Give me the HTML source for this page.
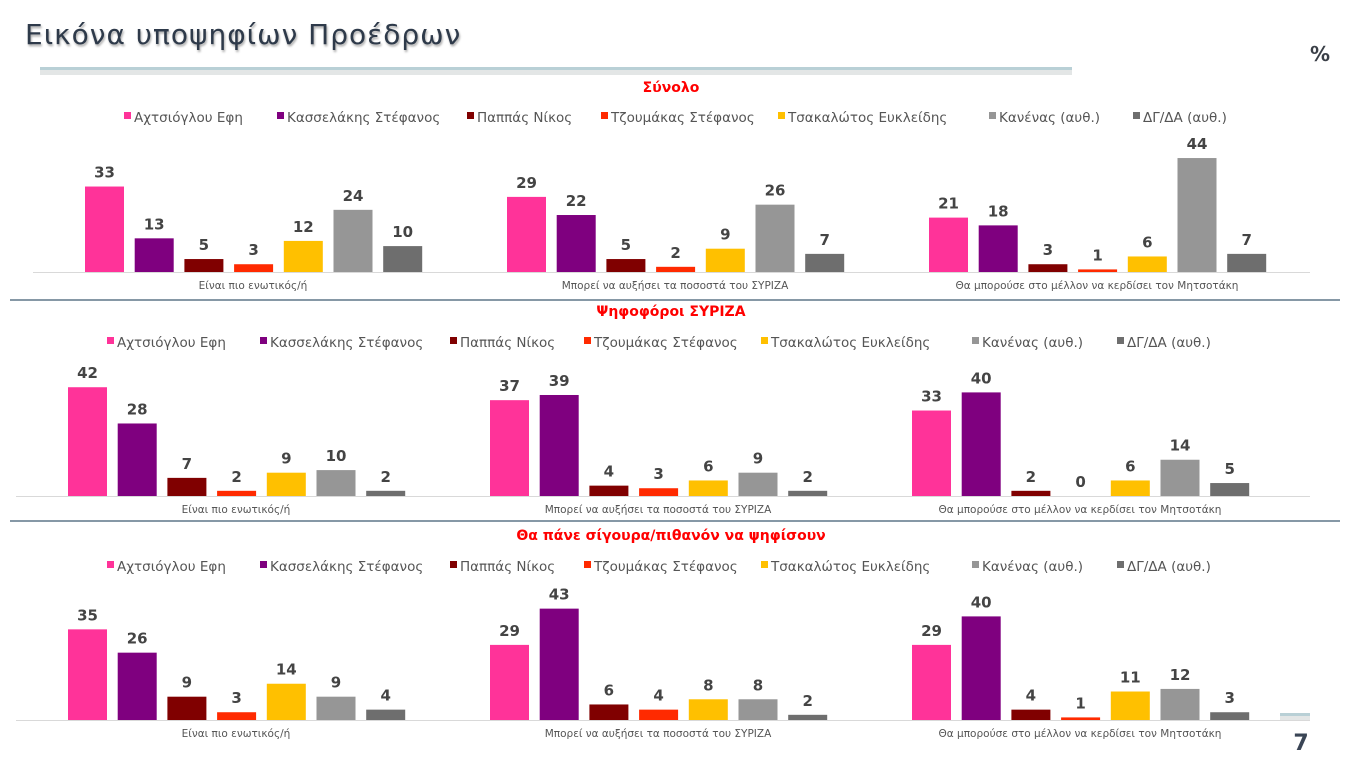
<!DOCTYPE html>
<html><head><meta charset="utf-8"><style>
body{margin:0;background:#fff;width:1360px;height:765px;overflow:hidden;font-family:"Liberation Sans","DejaVu Sans",sans-serif}
svg text{font-family:"DejaVu Sans","Liberation Sans",sans-serif}
</style></head><body>
<svg id="s" width="1360" height="765" xmlns="http://www.w3.org/2000/svg">
<text x="25" y="44" font-size="28" fill="#2E3A4A" style="font-family:'DejaVu Sans',sans-serif;text-shadow:1px 2px 2px #aaa" letter-spacing="1">Εικόνα υποψηφίων Προέδρων</text>
<rect x="40" y="70" width="1032" height="5" fill="#e3e6e6"/>
<rect x="40" y="67" width="1032" height="3" fill="#b9d0d6"/>
<text x="1320" y="61" font-size="20" font-weight="bold" fill="#3a3f47" text-anchor="middle">%</text>
<rect x="1280" y="713" width="30" height="3" fill="#b9d0d6"/>
<rect x="1280" y="716" width="30" height="4" fill="#e3e6e6"/>
<text x="1301" y="750" font-size="22" font-weight="bold" fill="#3a4555" text-anchor="middle">7</text>
<line x1="10" y1="300" x2="1340" y2="300" stroke="#3e5a70" stroke-width="1.3"/>
<line x1="10" y1="521" x2="1340" y2="521" stroke="#3e5a70" stroke-width="1.3"/>
</svg>
<script>
const s=document.getElementById('s');const NS='http://www.w3.org/2000/svg';
function el(t,a,txt){const e=document.createElementNS(NS,t);for(const k in a)e.setAttribute(k,a[k]);if(txt!=null)e.textContent=txt;s.appendChild(e);return e;}
const cols=['#FF3399','#7F007F','#800000','#FF2A00','#FFC000','#969696','#6E6E6E'];
const names=['Αχτσιόγλου Εφη','Κασσελάκης Στέφανος','Παππάς Νίκος','Τζουμάκας Στέφανος','Τσακαλώτος Ευκλείδης','Κανένας (αυθ.)','ΔΓ/ΔΑ (αυθ.)'];
const cats=['Είναι πιο ενωτικός/ή','Μπορεί να αυξήσει τα ποσοστά του ΣΥΡΙΖΑ','Θα μπορούσε στο μέλλον να κερδίσει τον Μητσοτάκη'];
const secs=[
 {title:'Σύνολο',ty:92,ly:117,base:272,x0:85,lx:[127,280,470,604,781,992,1136],
  d:[[33,13,5,3,12,24,10],[29,22,5,2,9,26,7],[21,18,3,1,6,44,7]]},
 {title:'Ψηφοφόροι ΣΥΡΙΖΑ',ty:316,ly:342,base:496,x0:68,lx:[110,263,453,587,764,975,1120],
  d:[[42,28,7,2,9,10,2],[37,39,4,3,6,9,2],[33,40,2,0,6,14,5]]},
 {title:'Θα πάνε σίγουρα/πιθανόν να ψηφίσουν',ty:540,ly:566,base:720,x0:68,lx:[110,263,453,587,764,975,1120],
  d:[[35,26,9,3,14,9,4],[29,43,6,4,8,8,2],[29,40,4,1,11,12,3]]}];
secs.forEach(S=>{
 el('text',{x:671,y:S.ty,'font-size':14,'font-weight':'bold',fill:'#FF0000','text-anchor':'middle'},S.title);
 S.lx.forEach((x,i)=>{el('rect',{x:x-3,y:S.ly-5,width:7,height:7,fill:cols[i]});
  el('text',{x:x+7,y:S.ly+5,'font-size':13.5,fill:'#555'},names[i]);});
 el('line',{x1:S.x0-52,y1:S.base+0.5,x2:1310,y2:S.base+0.5,stroke:'#d9d9d9','stroke-width':1});
 S.d.forEach((g,gi)=>{const gx=S.x0+gi*422;
  g.forEach((v,i)=>{const h=v*2.59,x=gx+i*49.7;
   if(h>0)el('rect',{x:x,y:S.base-h,width:39,height:h,fill:cols[i]});
   el('text',{x:x+19.5,y:S.base-h-9,'font-size':15,'font-weight':'bold',fill:'#444','text-anchor':'middle'},v);});
  el('text',{x:gx+168,y:S.base+17,'font-size':10.5,fill:'#555','text-anchor':'middle'},cats[gi]);});
});
</script>
</body></html>
